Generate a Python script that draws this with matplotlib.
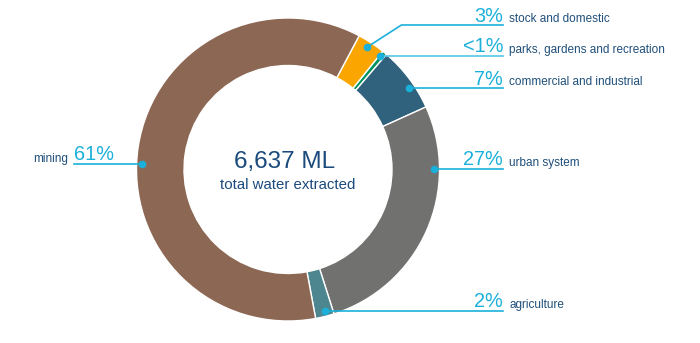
import numpy as np
import matplotlib.pyplot as plt

plt.rcParams['font.family'] = ['Liberation Sans', 'DejaVu Sans']

# water extraction share by use (%)
categories = ['stock and domestic', 'parks, gardens and recreation',
              'commercial and industrial', 'urban system', 'agriculture', 'mining']
shares = [3, 0.5, 7, 27, 2, 61]
pct_labels = ['3%', '<1%', '7%', '27%', '2%', '61%']
colors = ['#FBA500', '#00935F', '#30617D', '#717270', '#4E8690', '#8C6753']
total_ml = '6,637 ML'

# layout (pixel units, y measured upward)
W, H = 700, 343
cx, cy = 288, 173.5
R_out, R_in = 151.5, 104
start_deg = 28            # first wedge starts 28 deg clockwise from 12 o'clock
dot_r = 146
dot_frac = [0.46, 0.1, 0.62, 0.25, 0.4, 0.47]
line_end_right = 503
line_end_left = 74
cyan = '#1BB0DA'
light_cyan = '#55C6E4'
navy = '#1F4F7A'

fig = plt.figure(figsize=(7, 3.43), dpi=100)
ax = fig.add_axes([0, 0, 1, 1])

ax.pie(shares, colors=colors, startangle=90 - start_deg, counterclock=False,
       radius=R_out, center=(cx, cy),
       wedgeprops=dict(width=R_out - R_in, edgecolor='white', linewidth=1.0))
ax.set_xlim(0, W)
ax.set_ylim(0, H)
ax.set_aspect('equal')
ax.axis('off')

total = sum(shares)
cum = np.concatenate([[0], np.cumsum(shares)[:-1]])
for i, (cat, val, pct) in enumerate(zip(categories, shares, pct_labels)):
    a = np.radians(start_deg + 360 * (cum[i] + dot_frac[i] * val) / total)
    dx, dy = cx + dot_r * np.sin(a), cy + dot_r * np.cos(a)
    lc = light_cyan if cat.startswith('parks') else cyan

    if cat == 'mining':
        ax.plot([dx, line_end_left], [dy, dy], color=lc, lw=1.2, zorder=3)
        ax.text(line_end_left, dy + 3.5, pct, color=cyan, fontsize=14.3,
                ha='left', va='baseline')
        ax.text(line_end_left - 6, dy + 2, cat, color=navy, fontsize=8.5,
                ha='right', va='baseline')
    else:
        if cat == 'stock and domestic':
            # bent leader up to the top row
            ly = H - 25
            xs = [dx, dx + 34, line_end_right]
            ys = [dy, ly, ly]
        else:
            ly = dy
            xs = [dx, line_end_right]
            ys = [dy, dy]
        ax.plot(xs, ys, color=lc, lw=1.2, zorder=3)
        ax.text(line_end_right, ly + 3.5, pct, color=cyan, fontsize=14.3,
                ha='right', va='baseline')
        ax.text(line_end_right + 6, ly + 3, cat, color=navy, fontsize=8.5,
                ha='left', va='baseline')
    ax.plot(dx, dy, 'o', color=cyan, markersize=5.5, markeredgewidth=0,
            zorder=4)

ax.text(cx - 3, H - 168, total_ml, color='#1B4A7C', fontsize=17.5,
        ha='center', va='baseline')
ax.text(cx, H - 189, 'total water extracted', color='#1B4A7C', fontsize=10.8,
        ha='center', va='baseline')

fig.savefig('out.png', dpi=100)
